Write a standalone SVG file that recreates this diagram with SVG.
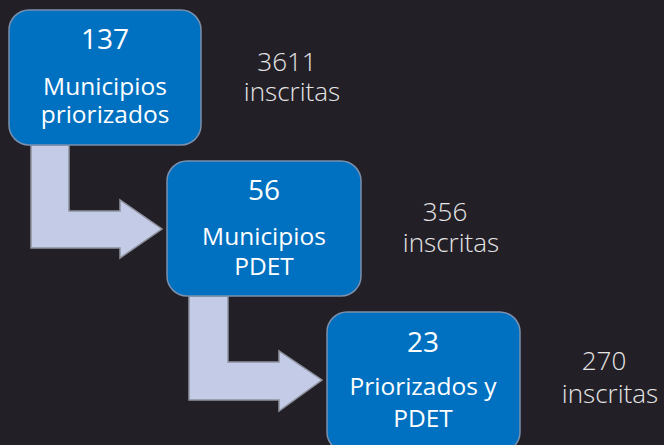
<svg xmlns="http://www.w3.org/2000/svg" width="664" height="445" viewBox="0 0 664 445">
<style>
.bg{fill:#231f26}
.box{fill:#0070c0;stroke:#7a90ad;stroke-width:1.5}
.arr{fill:#c3cbe6;stroke:#8e929e;stroke-width:1.5}
.t{font-family:"Open Sans","Noto Sans",sans-serif;fill:#ffffff;text-anchor:middle}
.num{font-size:28px}
.lbl{font-size:24.5px}
.side{font-family:"Open Sans","Noto Sans",sans-serif;fill:#e6e6e6;text-anchor:middle;font-size:26px;font-weight:300}
</style>
<rect class="bg" x="0" y="0" width="664" height="445"/>
<g id="connectors">
<path class="arr" d="M31,145 L69,145 L69,211 L120,211 L120,200 L162,229 L120,258 L120,248 L31,248 Z"/>
<path class="arr" d="M189,296 L228,296 L228,362 L279,362 L279,351 L322,380 L279,411 L279,400 L189,400 Z"/>
</g>
<g id="node1">
<rect class="box" x="9" y="10" width="192" height="135" rx="20"/>
<text class="t num" x="105" y="49">137</text>
<text class="t lbl" x="105" y="95">Municipios</text>
<text class="t lbl" x="105" y="123">priorizados</text>
</g>
<g id="node2">
<rect class="box" x="167" y="161" width="194" height="135" rx="20"/>
<text class="t num" x="264" y="200">56</text>
<text class="t lbl" x="264" y="245">Municipios</text>
<text class="t lbl" x="264" y="275">PDET</text>
</g>
<g id="node3">
<rect class="box" x="327" y="312" width="193" height="140" rx="20"/>
<text class="t num" x="423" y="352">23</text>
<text class="t lbl" x="423" y="395">Priorizados y</text>
<text class="t lbl" x="423" y="427">PDET</text>
</g>
<g id="labels">
<text class="side" x="287" y="71">3611</text>
<text class="side" x="292" y="101">inscritas</text>
<text class="side" x="445" y="221">356</text>
<text class="side" x="451" y="252">inscritas</text>
<text class="side" x="604" y="370">270</text>
<text class="side" x="610" y="403">inscritas</text>
</g>
</svg>
